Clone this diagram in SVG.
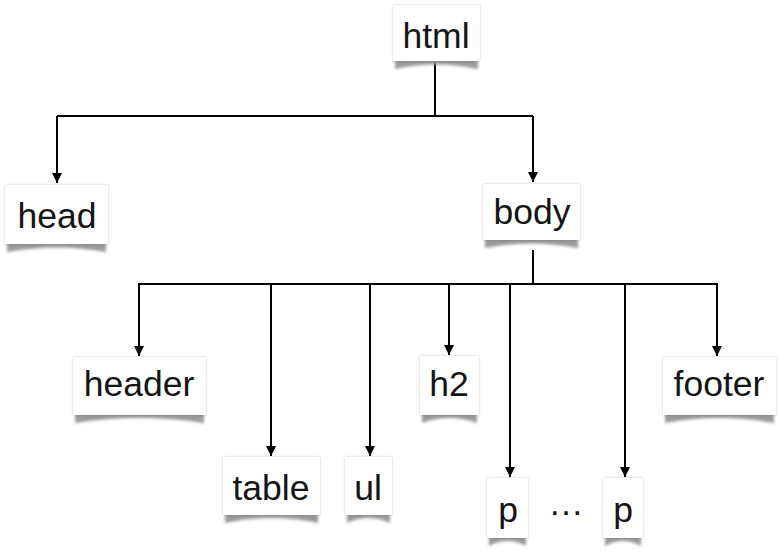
<svg xmlns="http://www.w3.org/2000/svg" width="779" height="554" viewBox="0 0 779 554">
<style>
.box{fill:#fff;filter:url(#soft)}
.curl{fill:#999;filter:url(#blur)}
.lbl{font-family:"Liberation Sans",Arial,sans-serif;font-size:35.5px;fill:#151515;text-anchor:middle}
.edge{fill:none;stroke:#000;stroke-width:2}
</style>
<defs>
<filter id="soft" x="-20%" y="-20%" width="140%" height="140%">
<feDropShadow dx="0" dy="0" stdDeviation="1.2" flood-color="#000" flood-opacity="0.22"/>
</filter>
<filter id="blur" x="-10%" y="-50%" width="120%" height="200%">
<feGaussianBlur stdDeviation="1.5"/>
</filter>
<marker id="arr" viewBox="0 0 10 10" refX="10" refY="5" markerWidth="5" markerHeight="5" orient="auto" markerUnits="strokeWidth">
<path d="M0,0 L10,5 L0,10 Z" fill="#000"/>
</marker>
</defs>

<g id="connectors">
<path class="edge" d="M435,62 V116"/>
<path class="edge" d="M57,116 H533"/>
<path class="edge" d="M57,116 V183" marker-end="url(#arr)"/>
<path class="edge" d="M533,116 V182" marker-end="url(#arr)"/>
<path class="edge" d="M533,250 V284"/>
<path class="edge" d="M138,284 H718"/>
<path class="edge" d="M139,284 V356" marker-end="url(#arr)"/>
<path class="edge" d="M271,284 V456" marker-end="url(#arr)"/>
<path class="edge" d="M370,284 V456" marker-end="url(#arr)"/>
<path class="edge" d="M449,284 V355" marker-end="url(#arr)"/>
<path class="edge" d="M510,284 V477" marker-end="url(#arr)"/>
<path class="edge" d="M625,284 V477" marker-end="url(#arr)"/>
<path class="edge" d="M717,284 V356" marker-end="url(#arr)"/>
</g>

<g id="html">
<path class="curl" d="M395,58 H478 V69 Q436,60 395,69 Z"/>
<rect class="box" x="393" y="5" width="87" height="56"/>
<text class="lbl" x="436" y="48">html</text>
</g>
<g id="head">
<path class="curl" d="M7,242 H106 V252 Q57,243 7,252 Z"/>
<rect class="box" x="5" y="185" width="103" height="59"/>
<text class="lbl" x="57" y="228">head</text>
</g>
<g id="body">
<path class="curl" d="M485,237 H578 V248 Q531,239 485,248 Z"/>
<rect class="box" x="483" y="184" width="97" height="56"/>
<text class="lbl" x="532" y="224">body</text>
</g>
<g id="header">
<path class="curl" d="M75,412 H204 V423 Q139,413 75,423 Z"/>
<rect class="box" x="73" y="357" width="133" height="58"/>
<text class="lbl" x="139" y="396">header</text>
</g>
<g id="table">
<path class="curl" d="M225,512 H318 V523 Q271,513 225,523 Z"/>
<rect class="box" x="223" y="457" width="97" height="58"/>
<text class="lbl" x="271" y="500">table</text>
</g>
<g id="ul">
<path class="curl" d="M347,512 H390 V523 Q368,513 347,523 Z"/>
<rect class="box" x="345" y="457" width="47" height="58"/>
<text class="lbl" x="368" y="500">ul</text>
</g>
<g id="h2">
<path class="curl" d="M422,412 H477 V423 Q449,413 422,423 Z"/>
<rect class="box" x="420" y="356" width="59" height="59"/>
<text class="lbl" x="449" y="396">h2</text>
</g>
<g id="p1">
<path class="curl" d="M489,535 H526 V546 Q507,536 489,546 Z"/>
<rect class="box" x="487" y="478" width="41" height="60"/>
<text class="lbl" x="508" y="522">p</text>
</g>
<g id="ellipsis">
<text class="lbl" x="566" y="515">…</text>
</g>
<g id="p2">
<path class="curl" d="M605,535 H641 V546 Q623,536 605,546 Z"/>
<rect class="box" x="603" y="478" width="40" height="60"/>
<text class="lbl" x="623" y="522">p</text>
</g>
<g id="footer">
<path class="curl" d="M665,412 H774 V423 Q719,413 665,423 Z"/>
<rect class="box" x="663" y="357" width="113" height="58"/>
<text class="lbl" x="719" y="396">footer</text>
</g>
</svg>
